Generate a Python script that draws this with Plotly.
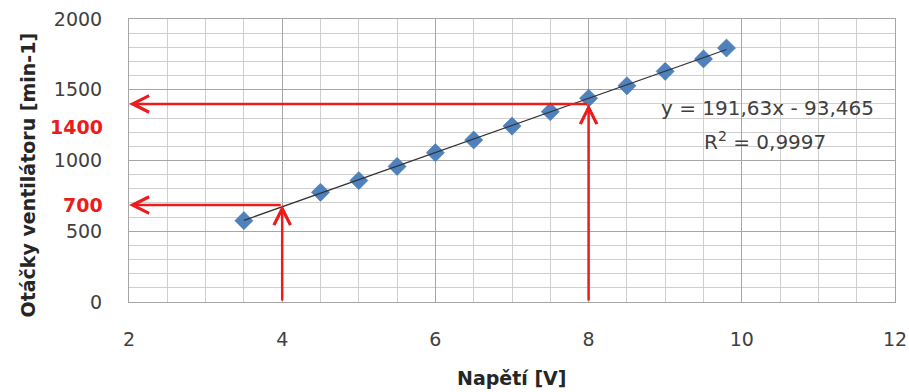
import plotly.graph_objects as go

# measured points: voltage [V] vs fan speed [min-1]
napeti = [3.5, 4.5, 5.0, 5.5, 6.0, 6.5, 7.0, 7.5, 8.0, 8.5, 9.0, 9.5, 9.8]
otacky = [575, 775, 858, 958, 1055, 1145, 1243, 1345, 1440, 1528, 1630, 1718, 1795]

# linear trend shown in the chart
slope = 191.63
intercept = -93.465
trend_x = [napeti[0], napeti[-1]]
trend_y = [slope * v + intercept for v in trend_x]

# read-off guides (voltage -> speed)
guide_x = [4, 8]
guide_y = [685, 1400]
guide_labels = ['700', '1400']
label_shift = [0, -23]

y_ticks = [0, 500, 1000, 1500, 2000]
x_ticks = [2, 4, 6, 8, 10, 12]

RED = '#ea1c1c'
TXT = '#404040'
FONT = 'DejaVu Sans'

fig = go.Figure()
fig.add_trace(go.Scatter(x=napeti, y=otacky, mode='markers',
                         marker=dict(symbol='diamond', size=14, color='#4f81bd',
                                     line=dict(width=0.5, color='#3f6fa8')),
                         showlegend=False))
fig.add_trace(go.Scatter(x=trend_x, y=trend_y, mode='lines',
                         line=dict(color='#333333', width=1.2), showlegend=False))

annots = []
for gx, gy, lab, sh in zip(guide_x, guide_y, guide_labels, label_shift):
    # horizontal arrow to the y axis
    annots.append(dict(x=2, y=gy, ax=gx, ay=gy, xref='x', yref='y', axref='x', ayref='y',
                       text='', showarrow=True, arrowhead=5, arrowsize=1.3,
                       arrowwidth=2.5, arrowcolor=RED, standoff=0))
    # vertical arrow up from the x axis
    annots.append(dict(x=gx, y=gy, ax=gx, ay=0, xref='x', yref='y', axref='x', ayref='y',
                       text='', showarrow=True, arrowhead=5, arrowsize=1.3,
                       arrowwidth=2.5, arrowcolor=RED, standoff=0))
    annots.append(dict(x=0, y=gy, xref='paper', yref='y', text='<b>%s</b>' % lab,
                       showarrow=False, xanchor='right', yanchor='middle', xshift=-24,
                       yshift=sh, font=dict(family=FONT, size=19, color=RED)))

annots.append(dict(x=10.33, y=1370, xref='x', yref='y', text='y = 191,63x - 93,465',
                   showarrow=False, xanchor='center', yanchor='middle',
                   font=dict(family=FONT, size=20, color=TXT)))
annots.append(dict(x=10.3, y=1135, xref='x', yref='y', text='R<sup>2</sup> = 0,9997',
                   showarrow=False, xanchor='center', yanchor='middle',
                   font=dict(family=FONT, size=20, color=TXT)))

annots.append(dict(x=0, y=0.5, xref='paper', yref='paper', text='<b>Otáčky ventilátoru [min-1]</b>',
                   showarrow=False, textangle=-90, xanchor='center', yanchor='middle',
                   xshift=-102, yshift=-15, font=dict(family=FONT, size=19, color='#262626')))
annots.append(dict(x=0.5, y=0, xref='paper', yref='paper', text='<b>Napětí [V]</b>',
                   showarrow=False, xanchor='center', yanchor='middle', yshift=-76,
                   font=dict(family=FONT, size=19, color='#262626')))

fig.update_layout(
    width=909, height=392,
    margin=dict(l=129, r=14, t=19, b=90),
    paper_bgcolor='white', plot_bgcolor='white',
    annotations=annots,
    xaxis=dict(range=[2, 12], tickvals=x_ticks, showgrid=True, gridcolor='#a6a6a6', gridwidth=1,
               minor=dict(dtick=0.5, showgrid=True, gridcolor='#cfcfcf', gridwidth=1),
               showline=True, linecolor='#a6a6a6', mirror=True, zeroline=False,
               ticks='', ticklabelstandoff=20, automargin=False, ticklabeloverflow='allow',
               tickfont=dict(family=FONT, size=19, color=TXT)),
    yaxis=dict(range=[0, 2000], tickvals=y_ticks, showgrid=True, gridcolor='#a6a6a6', gridwidth=1,
               minor=dict(dtick=100, showgrid=True, gridcolor='#cfcfcf', gridwidth=1),
               showline=True, linecolor='#a6a6a6', mirror=True, zeroline=False,
               ticks='', ticklabelstandoff=22, automargin=False, ticklabeloverflow='allow',
               tickfont=dict(family=FONT, size=19, color=TXT)),
)

# drop the default 8px page margin so the figure fills the window
fig.write_html('out.html', config={'displayModeBar': False},
               post_script="document.body.style.margin='0';document.body.style.overflow='hidden';")
